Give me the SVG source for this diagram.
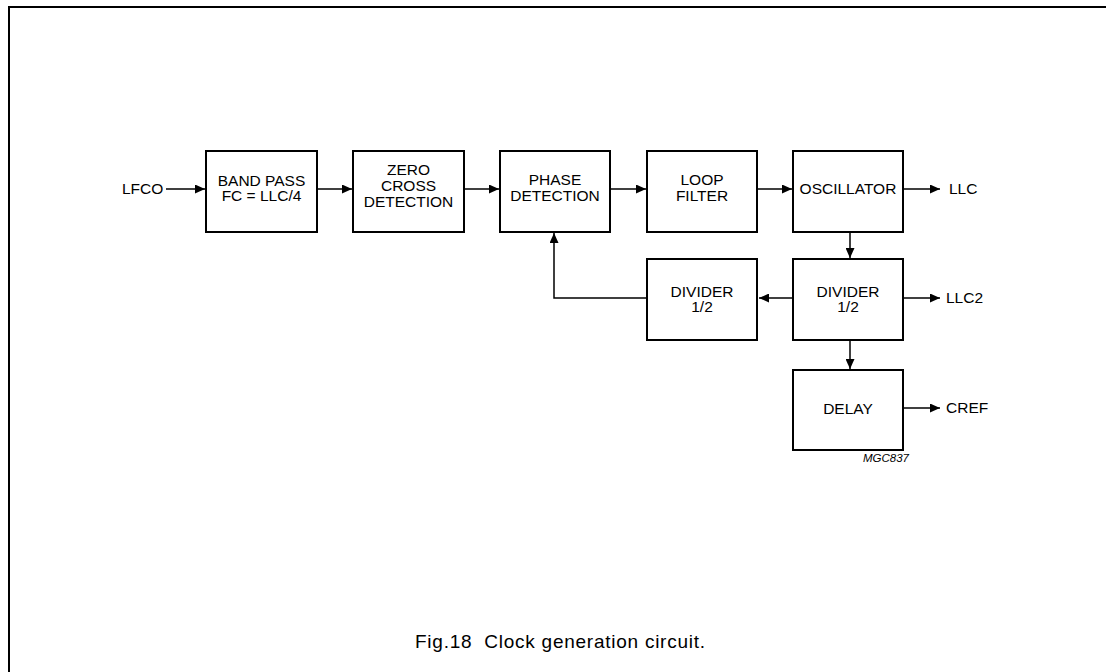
<svg xmlns="http://www.w3.org/2000/svg" width="1106" height="672" viewBox="0 0 1106 672">
<style>
.box{fill:#fff;stroke:#000;stroke-width:2}
.t{font-family:"Liberation Sans",Arial,sans-serif;font-size:15.5px;fill:#000;text-anchor:middle}
.l{font-family:"Liberation Sans",Arial,sans-serif;font-size:15.5px;fill:#000}
.c{fill:none;stroke:#000;stroke-width:1.5}
</style>
<defs>
<marker id="ah" viewBox="0 0 10 10" refX="10" refY="5" markerWidth="10" markerHeight="9" markerUnits="userSpaceOnUse" orient="auto" preserveAspectRatio="none">
<path d="M0,0 L10,5 L0,10 Z" fill="#000"/>
</marker>
</defs>
<g id="frame">
<path d="M9,672 V7 H1106" fill="none" stroke="#000" stroke-width="2"/>
</g>
<g id="connectors">
<path class="c" d="M166,189 H205" marker-end="url(#ah)"/>
<path class="c" d="M318,189 H352" marker-end="url(#ah)"/>
<path class="c" d="M465,189 H499" marker-end="url(#ah)"/>
<path class="c" d="M611,189 H646" marker-end="url(#ah)"/>
<path class="c" d="M758,189 H792" marker-end="url(#ah)"/>
<path class="c" d="M904,189 H940" marker-end="url(#ah)"/>
<path class="c" d="M850,233 V258" marker-end="url(#ah)"/>
<path class="c" d="M793,298 H759" marker-end="url(#ah)"/>
<path class="c" d="M647,298 H554 V233" marker-end="url(#ah)"/>
<path class="c" d="M904,298 H940" marker-end="url(#ah)"/>
<path class="c" d="M850,341 V369" marker-end="url(#ah)"/>
<path class="c" d="M904,408 H940" marker-end="url(#ah)"/>
</g>
<g id="lfco"><text class="l" x="122" y="194">LFCO</text></g>
<g id="bandpass">
<rect class="box" x="206" y="151" width="111" height="81"/>
<text class="t" x="261.5" y="186">BAND PASS</text>
<text class="t" x="261.5" y="201">FC = LLC/4</text>
</g>
<g id="zerocross">
<rect class="box" x="353" y="151" width="111" height="81"/>
<text class="t" x="408.5" y="175">ZERO</text>
<text class="t" x="408.5" y="191">CROSS</text>
<text class="t" x="408.5" y="207">DETECTION</text>
</g>
<g id="phasedetection">
<rect class="box" x="500" y="151" width="110" height="81"/>
<text class="t" x="555" y="185">PHASE</text>
<text class="t" x="555" y="201">DETECTION</text>
</g>
<g id="loopfilter">
<rect class="box" x="647" y="151" width="110" height="81"/>
<text class="t" x="702" y="185">LOOP</text>
<text class="t" x="702" y="201">FILTER</text>
</g>
<g id="oscillator">
<rect class="box" x="793" y="151" width="110" height="81"/>
<text class="t" x="848" y="194">OSCILLATOR</text>
</g>
<g id="llc"><text class="l" x="949" y="194">LLC</text></g>
<g id="divider2">
<rect class="box" x="793" y="259" width="110" height="81"/>
<text class="t" x="848" y="297">DIVIDER</text>
<text class="t" x="848" y="312">1/2</text>
</g>
<g id="divider1">
<rect class="box" x="647" y="259" width="110" height="81"/>
<text class="t" x="702" y="297">DIVIDER</text>
<text class="t" x="702" y="312">1/2</text>
</g>
<g id="llc2"><text class="l" x="946" y="303">LLC2</text></g>
<g id="delay">
<rect class="box" x="793" y="370" width="110" height="80"/>
<text class="t" x="848" y="414">DELAY</text>
</g>
<g id="cref"><text class="l" x="946" y="413">CREF</text></g>
<g id="mgc"><text x="863" y="462" font-family="'Liberation Sans',Arial,sans-serif" font-size="11.5" font-style="italic">MGC837</text></g>
<g id="caption"><text x="415" y="648" font-family="'Liberation Sans',Arial,sans-serif" font-size="19" xml:space="preserve" textLength="290">Fig.18  Clock generation circuit.</text></g>
</svg>
